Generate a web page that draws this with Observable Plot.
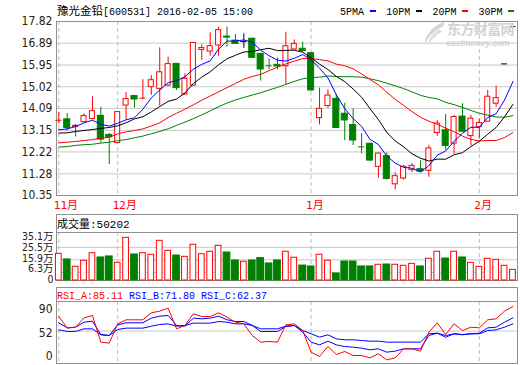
<!DOCTYPE html>
<html><head><meta charset="utf-8">
<script src="https://cdn.jsdelivr.net/npm/d3@7"></script>
<script src="https://cdn.jsdelivr.net/npm/@observablehq/plot@0.6"></script>
<style>
html,body{margin:0;padding:0;background:#fff;}
#wrap{position:relative;width:520px;height:365px;overflow:hidden;background:#fff;}
.mono{font-family:"Liberation Mono","DejaVu Sans Mono",monospace;font-size:10px;}
.cjk{font-family:"Noto Sans CJK SC",sans-serif;font-size:11.5px;}
.abs{position:absolute;white-space:nowrap;line-height:14px;}
.hdr{position:absolute;left:56px;width:462px;box-sizing:border-box;border:1px solid #909090;background:#fff;}
</style></head><body>
<div id="wrap"></div>
<script>
// ---------------- data ----------------
const stockName = "豫光金铅";
const stockInfo = "[600531] 2016-02-05 15:00";
const monthIdx = [0, 7, 30, 50];
const monthLabels = ["11月", "12月", "1月", "2月"];
const priceTicks = [17.82, 16.89, 15.95, 15.02, 14.09, 13.15, 12.22, 11.28, 10.35];
const volTicks = [35.1, 25.5, 15.9, 6.3, 0];
const volTickLabels = ["35.1万", "25.5万", "15.9万", "6.3万", "0"];
const volGrid = [25.5, 15.9, 6.3];
const rsiTicks = [90, 52, 0];
const rsiGrid = [52];
const maLabels = ["5PMA", "10PM", "20PM", "30PM"];
const maColors = ["#0000ff", "#000000", "#ff0000", "#008000"];
const volHeader = "成交量:50202";
const rsiHeader = ["RSI_A:85.11", "RSI_B:71.80", "RSI_C:62.37"];

const open  = [13.57,13.62,13.30,13.50,13.63,13.77,12.95,12.60,14.21,14.62,14.50,15.00,14.93,15.07,16.00,14.69,15.07,16.60,16.53,16.79,17.17,17.00,16.96,17.08,16.43,15.95,15.96,15.90,16.62,16.65,16.46,13.67,14.19,14.50,13.86,13.38,12.47,12.57,11.58,12.04,10.83,11.08,11.44,11.48,11.41,13.03,13.15,12.58,13.74,12.90,13.28,13.52,14.29,16.00,17.60];
const high  = [13.92,13.87,13.40,13.86,14.59,14.14,13.02,13.95,14.77,14.65,15.32,15.50,16.69,16.29,16.02,15.57,16.92,16.82,17.33,17.58,17.58,17.26,17.29,17.10,16.45,16.22,16.25,17.36,17.03,16.93,16.48,14.96,14.89,14.69,14.31,14.07,13.00,12.60,12.17,12.18,11.33,11.65,11.72,11.84,12.51,13.58,13.83,13.79,14.29,13.78,13.64,14.86,15.04,16.00,17.60];
const low   = [13.44,13.12,12.86,13.48,13.60,12.61,11.68,12.58,13.59,14.10,14.47,14.65,14.19,15.03,14.86,14.64,15.05,16.15,16.33,16.33,16.72,16.85,16.67,16.24,15.26,15.75,15.75,15.10,16.60,16.50,14.84,13.38,14.10,13.23,12.71,12.50,12.14,11.81,11.09,11.01,10.59,11.01,11.33,11.33,11.13,12.89,12.30,12.12,13.07,12.47,12.78,13.50,14.14,16.00,17.60];
const close = [13.58,13.25,13.34,13.76,13.97,12.75,12.85,13.93,14.49,14.47,14.53,15.30,15.64,15.99,14.96,15.36,16.90,16.68,16.76,17.45,17.13,16.86,16.96,16.26,15.76,15.92,15.89,16.76,16.86,16.55,14.86,14.07,14.64,13.25,13.57,12.71,12.44,11.85,12.15,11.06,11.18,11.58,11.62,11.38,12.37,13.44,12.48,13.72,13.09,13.65,13.46,14.59,14.53,16.00,17.60];

const ma5  = [13.17,13.21,13.31,13.47,13.58,13.41,13.33,13.45,13.60,13.69,14.05,14.54,14.88,15.19,15.28,15.45,15.77,15.98,16.13,16.63,16.98,16.98,17.03,16.93,16.59,16.35,16.16,16.12,16.24,16.40,16.18,15.82,15.40,14.67,14.08,13.65,13.32,12.76,12.54,12.04,11.74,11.56,11.52,11.36,11.63,12.08,12.26,12.68,13.02,13.28,13.28,13.70,13.86,14.45,15.24];
const ma10 = [13.03,13.04,13.10,13.14,13.18,13.23,13.27,13.34,13.47,13.64,13.73,13.94,14.17,14.39,14.49,14.75,15.16,15.43,15.66,15.96,16.22,16.37,16.51,16.53,16.61,16.67,16.57,16.58,16.59,16.50,16.27,15.99,15.76,15.46,15.24,14.92,14.57,14.08,13.61,13.06,12.69,12.44,12.14,11.95,11.83,11.91,11.91,12.10,12.19,12.45,12.68,12.98,13.27,13.73,14.26];
const ma20 = [12.61,12.64,12.67,12.71,12.75,12.81,12.85,13.00,13.08,13.14,13.21,13.33,13.47,13.70,13.88,14.06,14.24,14.44,14.62,14.80,14.98,15.16,15.34,15.46,15.55,15.71,15.86,16.00,16.12,16.23,16.24,16.18,16.13,15.99,15.92,15.79,15.57,15.33,15.10,14.78,14.48,14.22,13.95,13.71,13.54,13.41,13.24,13.09,12.90,12.76,12.69,12.71,12.71,12.84,13.05];
const ma30 = [12.43,12.45,12.50,12.53,12.55,12.60,12.64,12.70,12.75,12.83,12.90,13.00,13.10,13.21,13.36,13.50,13.65,13.81,13.98,14.16,14.32,14.45,14.56,14.66,14.76,14.88,14.99,15.12,15.25,15.36,15.41,15.43,15.48,15.46,15.45,15.45,15.43,15.36,15.28,15.17,15.06,14.94,14.80,14.65,14.56,14.50,14.35,14.25,14.13,14.00,13.88,13.80,13.72,13.71,13.78];

const vol = [20.5,16.2,10.5,15.2,21.0,17.7,18.5,13.6,32.8,20.0,21.0,19.8,30.5,22.8,19.2,18.2,27.5,20.2,22.1,26.7,21.5,15.4,14.4,15.4,17.2,13.1,15.4,22.1,17.5,11.5,10.8,19.8,15.2,5.4,14.6,14.6,10.8,10.8,12.1,12.3,12.1,11.3,12.8,10.8,16.7,22.1,16.9,22.1,17.7,13.6,10.5,16.7,15.9,11.3,8.2];

const rsiA = [77.6,57.1,58.8,75.3,79.4,32.4,30.6,64.7,71.8,71.8,71.8,84.1,87.1,92.4,55.9,61.8,82.4,77.6,77.6,84.1,76.5,67.6,64.7,44.1,32.4,33.5,32.4,62.9,64.7,52.9,14.7,7.1,24.7,10.6,15.9,8.8,8.8,4.7,11.8,1.2,4.7,20.6,20.6,16.5,50.0,66.5,45.9,64.7,52.9,58.8,57.6,71.8,73.5,87.1,95.3];
const rsiB = [66.5,57.6,58.8,67.6,69.4,45.9,44.1,62.9,66.5,66.5,66.5,74.7,78.2,79.4,61.8,60.6,74.7,73.5,74.7,78.2,71.8,68.8,68.8,61.8,51.2,51.2,51.2,60.0,61.8,50.0,32.4,27.6,34.1,27.6,24.7,23.5,21.8,18.8,20.6,14.7,16.5,20.6,20.6,20.6,44.1,48.2,41.2,47.1,45.3,47.1,48.2,57.6,58.8,67.6,75.3];
const rsiC = [54.1,51.2,51.2,55.9,55.9,45.3,44.1,54.7,57.1,57.1,57.1,60.6,63.5,64.7,60.6,61.8,65.9,65.9,65.9,68.8,67.6,64.7,64.7,61.8,55.9,55.9,55.9,60.6,61.8,52.9,47.1,41.2,45.3,38.2,36.5,36.5,35.3,34.1,34.1,32.4,32.4,32.4,32.4,32.4,47.1,48.2,44.1,47.1,45.9,47.1,47.1,52.9,54.1,58.8,64.7];

// ---------------- build ----------------
const rows = close.map((c, i) => ({i, open: open[i], high: high[i], low: low[i], close: c,
  ma5: ma5[i], ma10: ma10[i], ma20: ma20[i], ma30: ma30[i], vol: vol[i], a: rsiA[i], b: rsiB[i], c: rsiC[i]}));

const RED = "#ff0000", GREEN = "#008000", BLUE = "#0000ff";
const GRID = "#c8c8c8", FRAME = "#909090", DASH = "#bdbdbd";
const up = d => d.close > d.open;
const cColor = d => d.close > d.open ? RED : d.close < d.open ? GREEN : "#000000";
const vColor = d => d.close >= d.open ? RED : GREEN;
const isFlat = d => Math.abs(d.close - d.open) < 0.035;
const hw = d => up(d) ? 0.30 : 0.36;

const W = 520, ML = 56, MR = 3;
const XDOM = [-0.273, 54.54];
const numFont = '"DejaVu Sans Condensed","Liberation Sans Narrow","DejaVu Sans",sans-serif';
const monoCjk = '"DejaVu Sans Mono","Noto Sans CJK SC",monospace';
const wrap = document.getElementById("wrap");
function place(el, top) { el.style.position = "absolute"; el.style.left = "0px"; el.style.top = top + "px"; wrap.appendChild(el); }

// main price panel
const main = Plot.plot({
  width: W, height: 212, marginTop: 21, marginBottom: 17, marginLeft: ML, marginRight: MR,
  style: {background: "none", fontFamily: numFont, overflow: "visible"},
  x: {domain: XDOM, label: null},
  y: {domain: [10.35, 17.82], label: null},
  color: {type: "identity"},
  marks: [
    Plot.ruleY(priceTicks, {stroke: GRID}),
    Plot.ruleX(monthIdx, {stroke: DASH, strokeDasharray: "4,3"}),
    Plot.frame({stroke: FRAME}),
    Plot.ruleX(rows, {x: "i", y1: "low", y2: "high", stroke: cColor}),
    Plot.rect(rows.filter(d => !isFlat(d)), {x1: d => d.i - hw(d), x2: d => d.i + hw(d),
      y1: d => Math.min(d.open, d.close), y2: d => Math.max(d.open, d.close),
      fill: d => up(d) ? "#ffffff" : cColor(d), stroke: cColor}),
    Plot.ruleY(rows.filter(isFlat), {y: "close", x1: d => d.i - 0.36, x2: d => d.i + 0.36, stroke: cColor}),
    Plot.line(rows, {x: "i", y: "ma30", stroke: GREEN, strokeWidth: 1}),
    Plot.line(rows, {x: "i", y: "ma20", stroke: RED, strokeWidth: 1}),
    Plot.line(rows, {x: "i", y: "ma10", stroke: "#000", strokeWidth: 1}),
    Plot.line(rows, {x: "i", y: "ma5", stroke: BLUE, strokeWidth: 1}),
    Plot.axisY(priceTicks, {tickSize: 0, tickPadding: 4, tickFormat: d => d.toFixed(2), fontSize: 12, fill: "#222"}),
    Plot.axisX(monthIdx, {tickSize: 0, tickPadding: 6, tickFormat: d => monthLabels[monthIdx.indexOf(d)],
      fill: RED, textAnchor: "start", dx: -5, fontSize: 11, fontFamily: monoCjk})
  ]
});
place(main, 0);

// volume panel
const volHdr = document.createElement("div");
volHdr.className = "hdr"; volHdr.style.top = "214px"; volHdr.style.height = "19px";
wrap.appendChild(volHdr);
const volFont = '"DejaVu Sans Condensed","Noto Sans CJK SC",sans-serif';
// small vertical nudges keep the crowded tick labels apart, as in the reference
const volLabelDy = [2, 0, -1.5, -3.5, -0.5];
const volPlot = Plot.plot({
  width: W, height: 70, marginTop: 20, marginBottom: 2, marginLeft: ML, marginRight: MR,
  style: {background: "none", fontFamily: numFont, overflow: "visible"},
  x: {domain: XDOM, axis: null},
  y: {domain: [0, 36.9], label: null},
  color: {type: "identity"},
  marks: [
    Plot.ruleY(volGrid, {stroke: GRID}),
    Plot.ruleX(monthIdx, {stroke: DASH, strokeDasharray: "4,3"}),
    Plot.frame({stroke: FRAME}),
    Plot.rect(rows, {x1: d => d.i - (vColor(d) === RED ? 0.34 : 0.40), x2: d => d.i + (vColor(d) === RED ? 0.34 : 0.40),
      y1: 0, y2: "vol", fill: d => vColor(d) === RED ? "#ffffff" : GREEN, stroke: vColor}),
    ...volTicks.map((t, k) => Plot.axisY([t], {tickSize: 0, tickPadding: 3, tickFormat: () => volTickLabels[k],
      fontSize: 10.5, fill: "#222", fontFamily: volFont, dy: volLabelDy[k]}))
  ]
});
place(volPlot, 212);

// RSI panel
const rsiHdr = document.createElement("div");
rsiHdr.className = "hdr"; rsiHdr.style.top = "287px"; rsiHdr.style.height = "15px";
wrap.appendChild(rsiHdr);
const rsiLabelDy = [0, 2, -4];
const rsiPlot = Plot.plot({
  width: W, height: 80, marginTop: 16, marginBottom: 2, marginLeft: ML, marginRight: MR,
  style: {background: "none", fontFamily: numFont, overflow: "visible"},
  x: {domain: XDOM, axis: null},
  y: {domain: [-5.3, 104.1], label: null},
  marks: [
    Plot.ruleY(rsiGrid, {stroke: GRID}),
    Plot.ruleX(monthIdx, {stroke: DASH, strokeDasharray: "4,3"}),
    Plot.frame({stroke: FRAME}),
    Plot.line(rows, {x: "i", y: "c", stroke: BLUE, strokeWidth: 1}),
    Plot.line(rows, {x: "i", y: "b", stroke: BLUE, strokeWidth: 1}),
    Plot.line(rows, {x: "i", y: "a", stroke: RED, strokeWidth: 1}),
    ...rsiTicks.map((t, k) => Plot.axisY([t], {tickSize: 0, tickPadding: 4, fontSize: 12, fill: "#222", dy: rsiLabelDy[k]}))
  ]
});
place(rsiPlot, 285);

// texts: title, legend, watermark, headers
function addText(html, left, top, color) {
  const d = document.createElement("div");
  d.className = "abs";
  d.style.left = left + "px"; d.style.top = top + "px";
  if (color) d.style.color = color;
  d.innerHTML = html;
  wrap.appendChild(d);
  return d;
}
addText('<span class="cjk">' + stockName + '</span><span class="mono">' + stockInfo + '</span>', 57, 3, "#000");
maLabels.forEach((lab, k) => {
  addText('<span class="mono">' + lab + '</span>', 340 + k * 46.2, 3, "#000");
  const dash = document.createElement("div");
  dash.style.cssText = "position:absolute;height:2px;width:6px;top:10px;background:" + maColors[k] + ";left:" + (369.5 + k * 46.2) + "px";
  wrap.appendChild(dash);
});
// watermark logo (decorative swoosh) + text
const logo = document.createElementNS("http://www.w3.org/2000/svg", "svg");
logo.setAttribute("width", "28"); logo.setAttribute("height", "26");
logo.style.cssText = "position:absolute;left:420px;top:21px;";
logo.innerHTML = '<path d="M24 1 C14 4 6 12 4 24 C9 15 15 9 24 5 Z" fill="#d6d6d6"/><path d="M20 8 C13 12 9 17 8 24 C12 18 16 14 22 11 Z" fill="#dedede"/>';
wrap.appendChild(logo);
const wm1 = addText('<span style="font-family:\'Noto Sans CJK SC\',sans-serif;font-size:14px;font-weight:bold;letter-spacing:-0.6px">东方财富网</span>', 447, 21, "#d2d2d2");
wm1.style.lineHeight = "15px";
const wm2 = addText('<span style="font-family:\'Liberation Sans\',Arial,sans-serif;font-size:8.5px;font-style:italic;font-weight:bold">eastmoney.com</span>', 446, 36, "#d2d2d2");
wm2.style.lineHeight = "10px";
addText('<span class="cjk" style="font-size:11px">' + volHeader.split(":")[0] + '</span><span class="mono" style="font-size:11px">:' + volHeader.split(":")[1] + '</span>', 57, 216, "#000");
const rh = addText('<span class="mono" style="color:#ff0000">' + rsiHeader[0] + '</span><span class="mono"> </span><span class="mono" style="color:#0000ff">' + rsiHeader[1] + '</span><span class="mono"> </span><span class="mono" style="color:#0000ff">' + rsiHeader[2] + '</span>', 57, 287, "#000");
rh.style.lineHeight = "13px";
</script>
</body></html>
